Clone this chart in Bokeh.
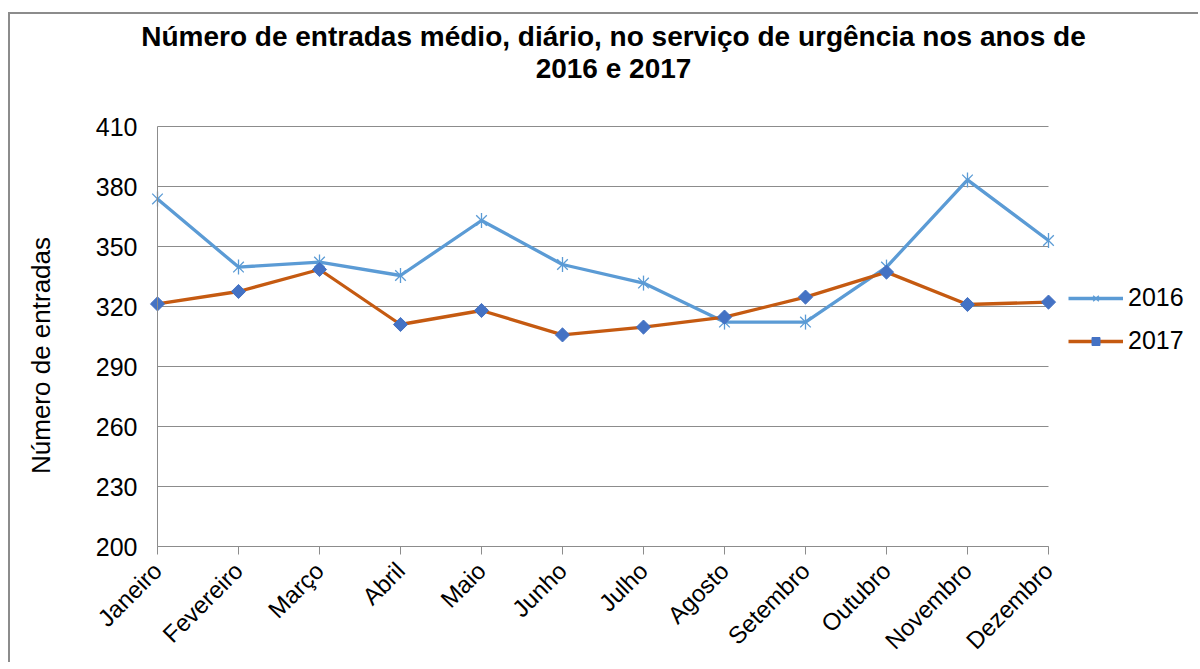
import math
from bokeh.plotting import figure
from bokeh.models import Range1d, FixedTicker, Legend, LegendItem, Label
from bokeh.embed import file_html
from bokeh.resources import INLINE

months = ["Janeiro", "Fevereiro", "Março", "Abril", "Maio", "Junho", "Julho",
          "Agosto", "Setembro", "Outubro", "Novembro", "Dezembro"]
v2016 = [373.8, 339.7, 342.2, 335.5, 363.0, 341.0, 331.7, 312.2, 312.2, 339.7, 383.3, 353.0]
v2017 = [321.3, 327.5, 338.5, 311.0, 318.0, 305.8, 309.7, 314.7, 324.7, 337.2, 321.0, 322.2]
y_ticks = [200, 230, 260, 290, 320, 350, 380, 410]
series_names = ["2016", "2017"]
title_lines = ["Número de entradas médio, diário, no serviço de urgência nos anos de", "2016 e 2017"]
y_title = "Número de entradas"

FONT = "Liberation Sans"
GRAY = "#8c8c8c"
C2016 = "#5B9BD5"
C2017 = "#C55A11"
MK2017 = "#4472C4"

# layout constants (pixels inside the figure; the frame fills the whole figure)
FIG_W, FIG_H = 1190, 650
PLOT_LEFT, PLOT_TOP = 147, 112    # offset of the chart's plotting box
PLOT_W, PLOT_H = 891, 420         # size of the plotting box

x = list(range(len(months)))
n_int = len(months) - 1
px_x = PLOT_W / n_int
px_y = PLOT_H / (y_ticks[-1] - y_ticks[0])
x_start = -PLOT_LEFT / px_x
x_end = n_int + (FIG_W - PLOT_LEFT - PLOT_W) / px_x
y_end = y_ticks[-1] + PLOT_TOP / px_y
y_start = y_ticks[0] - (FIG_H - PLOT_TOP - PLOT_H) / px_y

p = figure(width=FIG_W, height=FIG_H, output_backend="svg", toolbar_location=None, title=None,
           x_range=Range1d(x_start, x_end), y_range=Range1d(y_start, y_end),
           min_border_left=0, min_border_right=0, min_border_top=0, min_border_bottom=0)
p.styles = {"border-top": "2px solid " + GRAY, "border-left": "2px solid " + GRAY,
            "border-right": "none", "border-bottom": "none",
            "margin-top": "12px", "margin-left": "8px"}
p.outline_line_color = None
p.background_fill_color = "white"
p.border_fill_color = "white"

# title (two centred lines)
title_cx = (613 - 157) / px_x
for txt, yy in zip(title_lines, [y_ticks[-1] + 90 / px_y, y_ticks[-1] + 58 / px_y]):
    p.add_layout(Label(x=title_cx, y=yy, text=txt, text_align="center", text_baseline="middle",
                       text_font=FONT, text_font_size="28px", text_font_style="bold",
                       text_color="black"))

# vertical axis title
p.add_layout(Label(x=(40 - 157) / px_x, y=y_ticks[-1] - (355 - 126) / px_y, text=y_title,
                   angle=math.pi / 2, text_align="center", text_baseline="middle",
                   text_font=FONT, text_font_size="26px", text_color="black"))

# horizontal grid lines across the plotting box only
p.xgrid.grid_line_color = None
p.ygrid.grid_line_color = None
p.segment(x0=[0] * len(y_ticks), x1=[n_int] * len(y_ticks), y0=y_ticks, y1=y_ticks,
          line_color=GRAY, line_width=1)

# category axis, pinned to the bottom of the value scale
p.xaxis.fixed_location = y_ticks[0]
p.xaxis.bounds = (0, n_int)
p.xaxis.ticker = FixedTicker(ticks=x)
p.xaxis.major_label_overrides = {i: m for i, m in zip(x, months)}
p.xaxis.major_label_orientation = math.pi / 4
p.xaxis.axis_line_color = GRAY
p.xaxis.major_tick_line_color = GRAY
p.xaxis.major_tick_out = 8
p.xaxis.major_tick_in = 0
p.xaxis.minor_tick_line_color = None
p.xaxis.major_label_text_font = FONT
p.xaxis.major_label_text_font_size = "24px"
p.xaxis.major_label_text_color = "black"
p.xaxis.major_label_standoff = 12

# value axis, pinned to the first category
p.yaxis.fixed_location = 0
p.yaxis.bounds = (y_ticks[0], y_ticks[-1])
p.yaxis.ticker = FixedTicker(ticks=y_ticks)
p.yaxis.axis_line_color = GRAY
p.yaxis.major_tick_line_color = None
p.yaxis.major_tick_out = 0
p.yaxis.major_tick_in = 0
p.yaxis.minor_tick_line_color = None
p.yaxis.major_label_text_font = FONT
p.yaxis.major_label_text_font_size = "25px"
p.yaxis.major_label_text_color = "black"
p.yaxis.major_label_standoff = 20

# series
l16 = p.line(x, v2016, line_color=C2016, line_width=3.3)
m16a = p.scatter(x, v2016, marker="x", size=15, line_color=C2016, line_width=1.3)
m16b = p.scatter(x, v2016, marker="dash", angle=math.pi / 2, size=15, line_color=C2016, line_width=1.3)
l17 = p.line(x, v2017, line_color=C2017, line_width=3.3)
m17 = p.scatter(x, v2017, marker="square", angle=math.pi / 4, size=10,
                fill_color=MK2017, line_color=MK2017)

legend = Legend(items=[LegendItem(label=series_names[0], renderers=[l16, m16a, m16b]),
                       LegendItem(label=series_names[1], renderers=[l17, m17])],
                location=(PLOT_LEFT + PLOT_W + 20, 309), orientation="vertical",
                glyph_width=55, glyph_height=20, label_height=20, spacing=14,
                label_standoff=5, padding=0, margin=0,
                border_line_color=None, background_fill_alpha=0,
                label_text_font=FONT, label_text_font_size="25px", label_text_color="black")
p.add_layout(legend, "center")

open("out.html", "w").write(file_html(p, INLINE))
